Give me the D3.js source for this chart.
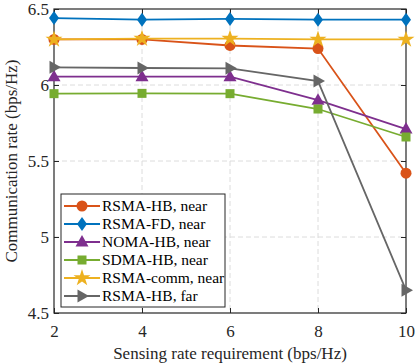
<!DOCTYPE html>
<html>
<head>
<meta charset="utf-8">
<script src="https://cdn.jsdelivr.net/npm/d3@7"></script>
<style>
  body { margin: 0; background: #fff; }
  svg { display: block; }
</style>
</head>
<body>
<svg id="chart" width="415" height="363"></svg>
<script>
// sensing rate requirement (bps/Hz)
const sensingRates = [2, 4, 6, 8, 10]

const rsmaHbNear   = [6.30, 6.30, 6.26, 6.24, 5.42]
const rsmaFdNear   = [6.44, 6.43, 6.435, 6.43, 6.43]
const nomaHbNear   = [6.055, 6.055, 6.055, 5.90, 5.71]
const sdmaHbNear   = [5.943, 5.945, 5.943, 5.842, 5.658]
const rsmaCommNear = [6.30, 6.305, 6.305, 6.30, 6.30]
const rsmaHbFar    = [6.116, 6.112, 6.11, 6.026, 4.65]

const xTicks = [2, 4, 6, 8, 10]
const yTicks = [4.5, 5, 5.5, 6, 6.5]

const series = [
    {name: "RSMA-HB, near",   values: rsmaHbNear,   color: "#D95319", marker: "circle"},
    {name: "RSMA-FD, near",   values: rsmaFdNear,   color: "#0072BD", marker: "diamond"},
    {name: "NOMA-HB, near",   values: nomaHbNear,   color: "#7E2F8E", marker: "triangle"},
    {name: "SDMA-HB, near",   values: sdmaHbNear,   color: "#77AC30", marker: "square"},
    {name: "RSMA-comm, near", values: rsmaCommNear, color: "#EDB120", marker: "star"},
    {name: "RSMA-HB, far",    values: rsmaHbFar,    color: "#666666", marker: "right"}
]

const FONT = "Liberation Serif"
const margin = {top: 9, right: 9, bottom: 50, left: 54}
const width = 415 - margin.left - margin.right
const height = 363 - margin.top - margin.bottom

const svg = d3.select("#chart")
const g = svg.append("g").attr("transform", `translate(${margin.left},${margin.top})`)

const x = d3.scaleLinear().domain([2, 10]).range([0, width])
const y = d3.scaleLinear().domain([4.5, 6.5]).range([height, 0])

// grid
g.append("g").selectAll("line").data(xTicks.slice(1, -1)).enter().append("line")
    .attr("x1", d => x(d)).attr("x2", d => x(d))
    .attr("y1", 0).attr("y2", height)
    .attr("stroke", "#dcdcdc").attr("stroke-dasharray", "5,3")
g.append("g").selectAll("line").data(yTicks.slice(1, -1)).enter().append("line")
    .attr("y1", d => y(d)).attr("y2", d => y(d))
    .attr("x1", 0).attr("x2", width)
    .attr("stroke", "#dcdcdc").attr("stroke-dasharray", "5,3")

// axes (ticks inward, box)
const axisStyle = sel => {
    sel.attr("font-family", FONT)
    sel.select(".domain").remove()
    sel.selectAll(".tick line").attr("stroke", "#262626")
    sel.selectAll(".tick text").attr("fill", "#262626").attr("font-size", "17px")
        .attr("font-family", FONT)
}
g.append("g").attr("transform", `translate(0,${height})`)
    .call(d3.axisBottom(x).tickValues(xTicks).tickSize(-5).tickPadding(12))
    .call(axisStyle)
g.append("g")
    .call(d3.axisLeft(y).tickValues(yTicks).tickSize(-5).tickPadding(5).tickFormat(d3.format("")))
    .call(axisStyle)
g.append("g").attr("transform", `translate(${width},0)`)
    .call(d3.axisRight(y).tickValues(yTicks).tickSize(-5).tickFormat(""))
    .call(axisStyle)
g.append("g")
    .call(d3.axisTop(x).tickValues(xTicks).tickSize(-5).tickFormat(""))
    .call(axisStyle)

g.append("rect").attr("width", width).attr("height", height)
    .attr("fill", "none").attr("stroke", "#262626").attr("stroke-width", 1.2)

// markers
function drawMarker(sel, type, color, s) {
    if (type === "circle") {
        sel.append("circle").attr("r", s * 0.55).attr("fill", color)
    } else if (type === "diamond") {
        sel.append("path").attr("d", `M0,${-s * 0.7}L${s * 0.5},0L0,${s * 0.7}L${-s * 0.5},0Z`).attr("fill", color)
    } else if (type === "triangle") {
        sel.append("path").attr("d", `M0,${-s * 0.7}L${s * 0.65},${s * 0.45}L${-s * 0.65},${s * 0.45}Z`).attr("fill", color)
    } else if (type === "square") {
        sel.append("rect").attr("x", -s * 0.45).attr("y", -s * 0.45).attr("width", s * 0.9).attr("height", s * 0.9).attr("fill", color)
    } else if (type === "star") {
        sel.append("path").attr("d", d3.symbol(d3.symbolStar, s * s * 0.9)).attr("fill", color)
    } else if (type === "right") {
        sel.append("path").attr("d", `M${s * 0.7},0L${-s * 0.45},${-s * 0.65}L${-s * 0.45},${s * 0.65}Z`).attr("fill", color)
    }
}

const line = d3.line().x((d, i) => x(sensingRates[i])).y(d => y(d))

series.forEach(s => {
    g.append("path").datum(s.values)
        .attr("d", line).attr("fill", "none")
        .attr("stroke", s.color).attr("stroke-width", 1.8)
    s.values.forEach((v, i) => {
        const m = g.append("g").attr("transform", `translate(${x(sensingRates[i])},${y(v)})`)
        drawMarker(m, s.marker, s.color, 10)
    })
})

// legend
const legend = g.append("g").attr("transform", "translate(7,185)")
legend.append("rect").attr("width", 164).attr("height", 113)
    .attr("fill", "#fff").attr("stroke", "#262626").attr("stroke-width", 1)
series.forEach((s, i) => {
    const row = legend.append("g").attr("transform", `translate(0,${12 + i * 18})`)
    row.append("line").attr("x1", 3).attr("x2", 39).attr("stroke", s.color).attr("stroke-width", 1.8)
    drawMarker(row.append("g").attr("transform", "translate(21,0)"), s.marker, s.color, 10)
    row.append("text").attr("x", 41).attr("y", 5).attr("font-size", "15.5px")
        .attr("font-family", FONT).attr("fill", "#000").text(s.name)
})

// axis labels
svg.append("text")
    .attr("x", margin.left + width / 2).attr("y", 359)
    .attr("text-anchor", "middle").attr("font-size", "17px").attr("fill", "#262626")
    .attr("font-family", FONT)
    .text("Sensing rate requirement (bps/Hz)")
svg.append("text")
    .attr("transform", `translate(17,${margin.top + height / 2}) rotate(-90)`)
    .attr("text-anchor", "middle").attr("font-size", "17px").attr("fill", "#262626")
    .attr("font-family", FONT)
    .text("Communication rate (bps/Hz)")
</script>
</body>
</html>
